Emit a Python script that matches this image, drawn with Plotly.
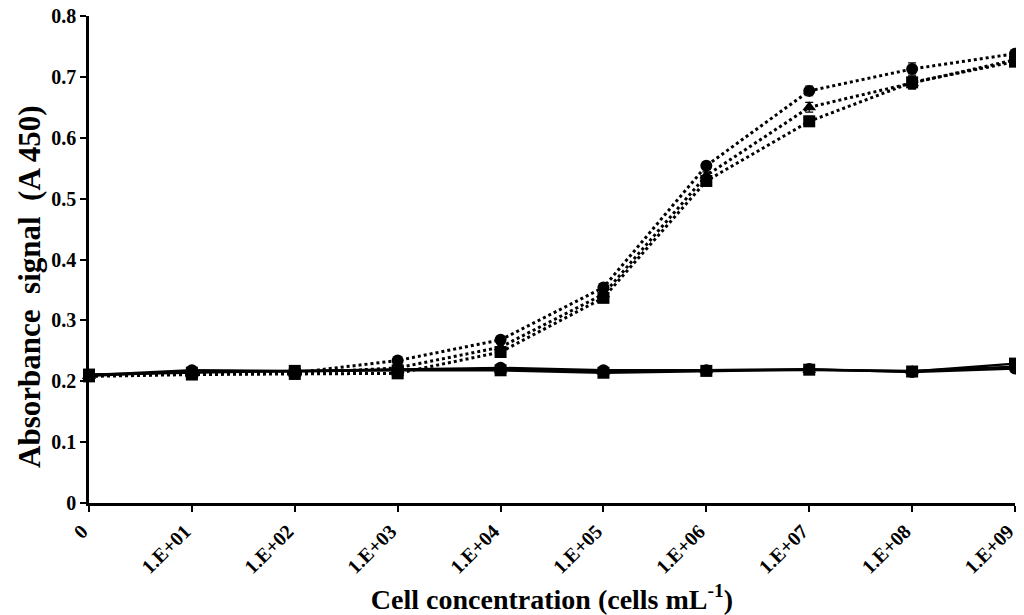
import plotly.graph_objects as go

categories = ["0", "1.E+01", "1.E+02", "1.E+03", "1.E+04", "1.E+05",
              "1.E+06", "1.E+07", "1.E+08", "1.E+09"]
y_ticks = [0, 0.1, 0.2, 0.3, 0.4, 0.5, 0.6, 0.7, 0.8]
y_tick_labels = ["0", "0.1", "0.2", "0.3", "0.4", "0.5", "0.6", "0.7", "0.8"]

# Target cells (dotted lines)
dot_circle = [0.210, 0.213, 0.214, 0.234, 0.268, 0.354, 0.554, 0.677, 0.713, 0.738]
dot_triangle = [0.209, 0.212, 0.213, 0.222, 0.256, 0.343, 0.538, 0.650, 0.690, 0.728]
dot_square = [0.208, 0.211, 0.212, 0.213, 0.248, 0.337, 0.529, 0.627, 0.691, 0.725]
dot_err = [0.003, 0.003, 0.003, 0.004, 0.005, 0.006, 0.006, 0.008, 0.010, 0.005]

# Control cells (solid lines)
sol_circle = [0.210, 0.218, 0.217, 0.220, 0.222, 0.218, 0.218, 0.220, 0.215, 0.221]
sol_triangle = [0.209, 0.216, 0.216, 0.219, 0.219, 0.216, 0.218, 0.219, 0.217, 0.224]
sol_square = [0.211, 0.214, 0.217, 0.218, 0.218, 0.214, 0.217, 0.219, 0.216, 0.229]
sol_err = [0.003, 0.003, 0.003, 0.003, 0.003, 0.003, 0.003, 0.003, 0.003, 0.003]

x = list(range(len(categories)))

fig = go.Figure()

def add(y, symbol, dash, err):
    fig.add_trace(go.Scatter(
        x=x, y=y, mode="lines+markers",
        line=dict(color="black", width=3 if dash == "dot" else 2.4, dash=dash),
        marker=dict(symbol=symbol, size=12, color="black"),
        error_y=dict(type="data", array=err, color="black", thickness=1.2, width=4),
        cliponaxis=False, showlegend=False,
    ))

add(sol_circle, "circle", "solid", sol_err)
add(sol_triangle, "triangle-up", "solid", sol_err)
add(sol_square, "square", "solid", sol_err)
add(dot_circle, "circle", "dot", dot_err)
add(dot_triangle, "triangle-up", "dot", dot_err)
add(dot_square, "square", "dot", dot_err)

font_family = "Liberation Serif, Times New Roman, serif"

# The page body adds an 8px offset, so the figure is sized 1016x607.
fig.update_layout(
    width=1016, height=607,
    margin=dict(l=81, r=9, t=8, b=112),
    paper_bgcolor="white", plot_bgcolor="white",
    font=dict(family=font_family, color="black"),
    xaxis=dict(
        range=[0, 9], tickvals=x, ticktext=["<b>%s</b>" % c for c in categories],
        tickangle=-45, ticks="outside", ticklen=6, tickwidth=2, tickcolor="black",
        showline=True, linecolor="black", linewidth=2.5, showgrid=False, zeroline=False,
        tickfont=dict(size=20, family=font_family), automargin=False,
        ticklabeloverflow="allow", ticklabelshift=-7,
        title=dict(text="<b>Cell concentration (cells mL<sup>-1</sup>)</b>",
                   font=dict(size=28, family=font_family), standoff=22),
    ),
    yaxis=dict(
        range=[0, 0.8], tickvals=y_ticks,
        ticktext=["<b>%s</b>" % t for t in y_tick_labels],
        ticks="outside", ticklen=6, tickwidth=2, tickcolor="black",
        showline=True, linecolor="black", linewidth=2.5, showgrid=False, zeroline=False,
        tickfont=dict(size=20, family=font_family), automargin=False,
        ticklabeloverflow="allow",
    ),
    annotations=[dict(
        text="<b>Absorbance  signal  (A 450)</b>", textangle=-90,
        xref="paper", yref="y", x=0, y=0.355, xanchor="center", yanchor="middle",
        xshift=-59, showarrow=False,
        font=dict(size=31, family=font_family, color="black"),
    )],
)

fig.write_html("out.html")
